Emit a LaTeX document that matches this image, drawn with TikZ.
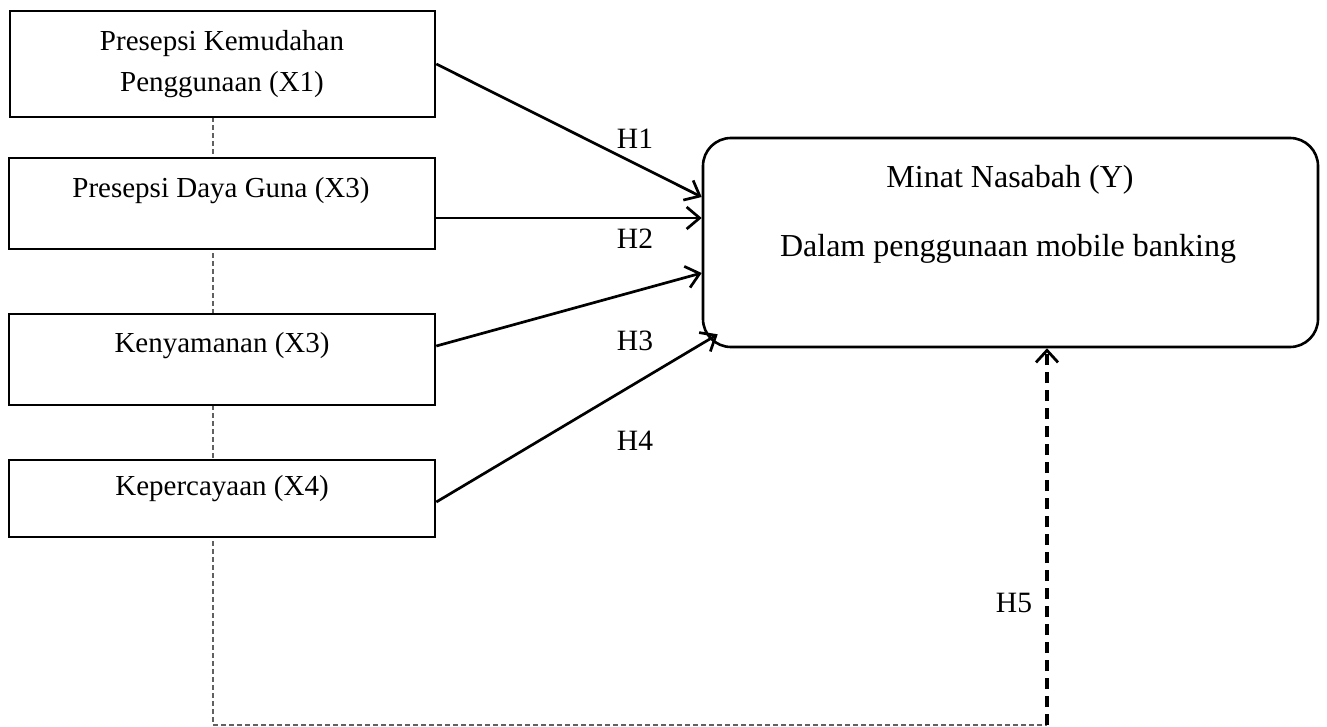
\documentclass[tikz,border=0pt]{standalone}
\usepackage{fontspec}
\setmainfont{Liberation Serif}
\usetikzlibrary{arrows.meta}
\begin{document}
\begin{tikzpicture}[x=1pt,y=-1pt,
  box/.style={draw=black,line width=2.6pt,fill=white,inner sep=0pt},
  boxtext/.style={font=\fontsize{29}{41}\selectfont,align=center,inner sep=0pt},
  ytext/.style={font=\fontsize{32}{38}\selectfont,inner sep=0pt},
  hlabel/.style={font=\fontsize{29.5}{34}\selectfont,inner sep=0pt},
  arr/.style={line width=2.7pt,-{Straight Barb[length=13pt,width=22pt,line width=2.7pt]}},
  thindash/.style={draw=black!62,line width=1.8pt,dash pattern=on 5pt off 3pt},
  thickdash/.style={line width=3.2pt,dash pattern=on 11pt off 7pt,-{Straight Barb[length=12pt,width=22pt,line width=2.8pt]}}]
\useasboundingbox (0,0) rectangle (1327,727);
% dashed gray line behind boxes
\coordinate (corner) at (1047,725);
\node[minimum width=425pt,minimum height=106pt] (x1p) at (222.5,64) {};
\draw[thindash] ([xshift=-9.5pt]x1p.south) |- (corner);
% boxes
\node[box,minimum width=425pt,minimum height=106pt] (x1) at (222.5,64) {};
\node[box,minimum width=426pt,minimum height=91pt] (x2) at (222,203.5) {};
\node[box,minimum width=426pt,minimum height=91pt] (x3) at (222,359.5) {};
\node[box,minimum width=426pt,minimum height=77pt] (x4) at (222,498.5) {};
\node[box,rounded corners=28pt,minimum width=615pt,minimum height=209pt] (y) at (1010.5,242.5) {};
% texts
\node[boxtext] (t1) at (222,64) {Presepsi Kemudahan\\Penggunaan (X1)};
\node[boxtext] (t2) at (221,191) {Presepsi Daya Guna (X3)};
\node[boxtext] (t3) at (222,346) {Kenyamanan (X3)};
\node[boxtext] (t4) at (222,489) {Kepercayaan (X4)};
\node[ytext] (ty1) at (1010,180) {Minat Nasabah (Y)};
\node[ytext] (ty2) at (1008,249) {Dalam penggunaan mobile banking};
% arrows
\draw[arr] (x1.east) -- ([yshift=45.5pt]y.west);
\draw[arr] ([yshift=-14.5pt]x2.east) -- ([yshift=24.5pt]y.west);
\draw[arr] ([yshift=13.5pt]x3.east) -- ([yshift=-30.5pt]y.west);
\draw[arr] ([yshift=-3.5pt]x4.east) -- ([xshift=16pt,yshift=14pt]y.south west);
\draw[thickdash] (corner) -- ([xshift=36.5pt]y.south);
% labels
\node[hlabel] (h1) at (635,139) {H1};
\node[hlabel] (h2) at (635,239) {H2};
\node[hlabel] (h3) at (635,341) {H3};
\node[hlabel] (h4) at (635,441) {H4};
\node[hlabel] (h5) at (1014,603) {H5};
\end{tikzpicture}
\end{document}
